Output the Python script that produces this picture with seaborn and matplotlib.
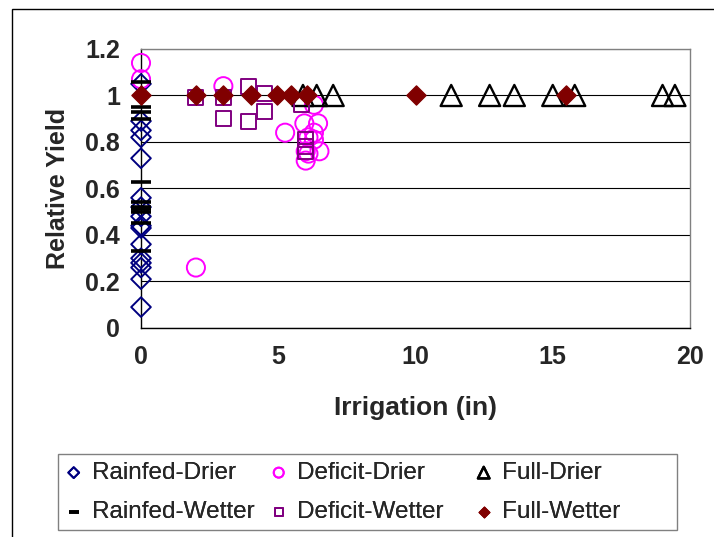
import numpy as np
import pandas as pd
import seaborn as sns
import matplotlib.pyplot as plt
from matplotlib.patches import Rectangle
from matplotlib.ticker import FormatStrFormatter

# Rainfed (no irrigation)
rainfed_drier_y = [1.05, 0.89, 0.85, 0.82, 0.73, 0.56, 0.52, 0.48, 0.44, 0.43,
                   0.36, 0.30, 0.28, 0.26, 0.21, 0.09]
rainfed_drier_x = [0] * len(rainfed_drier_y)
rainfed_wetter_y = [1.06, 0.95, 0.93, 0.90, 0.63, 0.54, 0.52, 0.51, 0.50, 0.45, 0.33]
rainfed_wetter_x = [0] * len(rainfed_wetter_y)

# Deficit irrigation
deficit_drier_x = [0, 0, 2, 3, 5.25, 5.95, 6.45, 6.3, 6.1, 6.3, 6.0, 6.5, 6.1, 6.0, 6.3]
deficit_drier_y = [1.14, 1.07, 0.26, 1.04, 0.84, 0.88, 0.88, 0.84, 0.82, 0.81,
                   0.76, 0.76, 0.75, 0.72, 0.96]
deficit_wetter_x = [2, 3, 3, 3.9, 3.9, 4.5, 4.5, 5.85, 6.0, 6.0, 6.0]
deficit_wetter_y = [0.99, 0.99, 0.90, 1.04, 0.89, 1.01, 0.93, 0.96, 0.81, 0.78, 0.76]

# Full irrigation
full_drier_x = [5.9, 6.4, 7.0, 11.3, 12.7, 13.6, 15.0, 15.8, 19.0, 19.45]
full_drier_y = [1.0] * len(full_drier_x)
full_wetter_x = [0, 2, 3, 4, 4.95, 5.45, 6.05, 10.0, 15.5]
full_wetter_y = [1.0] * len(full_wetter_x)


def main():
    sns.set_theme(style="white")
    plt.rcParams["font.family"] = ["Liberation Sans", "DejaVu Sans"]

    fig = plt.figure(figsize=(7.14, 5.37), dpi=100)
    ax = fig.add_axes([0.1975, 0.3892, 0.7689, 0.5196])

    # chart area border (left and top edges visible)
    fig.patches.append(Rectangle((12 / 714, -0.5), 2, 0.9832 + 0.5, fill=False,
                                 edgecolor="black", linewidth=1,
                                 transform=fig.transFigure))

    # series: label, x, y, marker, size, face, edge, lw
    series = [
        ("Rainfed-Drier", rainfed_drier_x, rainfed_drier_y, "D", 100, "none", "#000080", 1.4),
        ("Deficit-Drier", deficit_drier_x, deficit_drier_y, "o", 170, "none", "#FF00FF", 1.4),
        ("Full-Drier", full_drier_x, full_drier_y, "^", 230, "none", "black", 1.7),
        ("Rainfed-Wetter", rainfed_wetter_x, rainfed_wetter_y, "_", 200, "black", "black", 2.6),
        ("Deficit-Wetter", deficit_wetter_x, deficit_wetter_y, "s", 115, "none", "#800080", 1.4),
        ("Full-Wetter", full_wetter_x, full_wetter_y, "D", 95, "#800000", "#800000", 1.0),
    ]

    handles = {}
    for i, (label, x, y, marker, s, fc, ec, lw) in enumerate(series):
        df = pd.DataFrame({"x": x, "y": y})
        kws = dict(data=df, x="x", y="y", marker=marker, s=s, linewidth=lw,
                   color=ec, ax=ax, clip_on=False, zorder=3 + i, label=label)
        if marker != "_":
            kws["facecolor"] = fc
            kws["edgecolor"] = ec
        sns.scatterplot(**kws)
        handles[label] = ax.collections[-1]

    ax.set_xlim(0, 20)
    ax.set_ylim(0, 1.2)
    ax.set_xticks([0, 5, 10, 15, 20])
    ax.set_yticks(np.arange(0, 1.21, 0.2))
    ax.yaxis.set_major_formatter(FormatStrFormatter("%g"))

    ax.yaxis.grid(True, color="black", linewidth=0.8)
    ax.get_ygridlines()[-1].set_color("#808080")
    ax.set_axisbelow(True)

    for side in ["left", "bottom"]:
        ax.spines[side].set_color("black")
        ax.spines[side].set_linewidth(1.0)
    for side in ["top", "right"]:
        ax.spines[side].set_color("#808080")
        ax.spines[side].set_linewidth(1.0)

    ax.tick_params(axis="both", which="both", direction="out", length=5,
                   width=1, color="black", labelsize=18)
    ax.tick_params(axis="x", pad=7)
    ax.tick_params(axis="y", pad=10)
    for lab in ax.get_xticklabels() + ax.get_yticklabels():
        lab.set_fontweight("bold")

    ax.set_xlabel("Irrigation (in)", fontsize=19, fontweight="bold", labelpad=20)
    ax.set_ylabel("Relative Yield", fontsize=18, fontweight="bold", labelpad=11)

    if ax.get_legend() is not None:
        ax.get_legend().remove()

    # legend frame, then one legend per column so the columns are evenly spaced
    fig.patches.append(Rectangle((58 / 714, 7 / 537), 619 / 714, 76 / 537,
                                 fill=False, edgecolor="#808080", linewidth=1.0,
                                 transform=fig.transFigure))
    columns = [["Rainfed-Drier", "Rainfed-Wetter"],
               ["Deficit-Drier", "Deficit-Wetter"],
               ["Full-Drier", "Full-Wetter"]]
    col_left = [64, 269, 474]
    for labels, left in zip(columns, col_left):
        leg = fig.legend([handles[k] for k in labels], labels, ncol=1,
                         loc="upper left",
                         bbox_to_anchor=(left / 714, 1 - 462 / 537),
                         fontsize=17.5, frameon=False, markerscale=0.55,
                         handlelength=0.8, handletextpad=0.34,
                         labelspacing=0.7, borderpad=0, borderaxespad=0)
        fig.add_artist(leg)

    fig.savefig("out.png", dpi=100)


if __name__ == "__main__":
    main()
